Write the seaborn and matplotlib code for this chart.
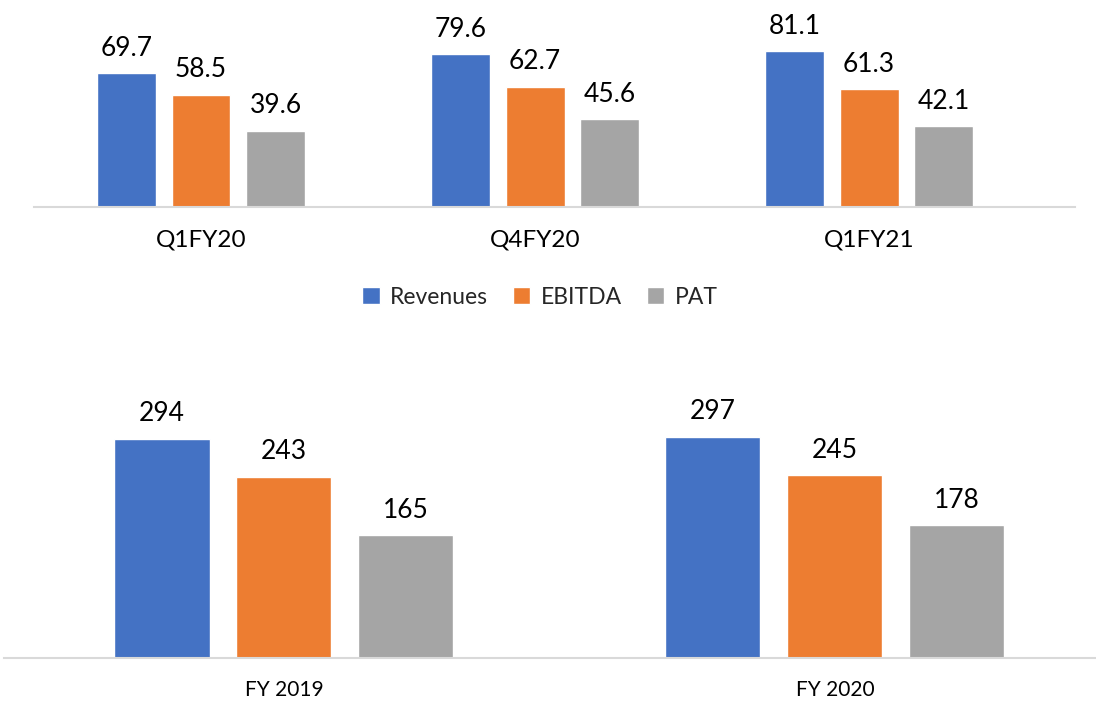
import pandas as pd
import matplotlib
matplotlib.use("Agg")
import matplotlib.pyplot as plt
import seaborn as sns

# quarterly figures
quarters = ["Q1FY20", "Q4FY20", "Q1FY21"]
q_revenues = [69.7, 79.6, 81.1]
q_ebitda = [58.5, 62.7, 61.3]
q_pat = [39.6, 45.6, 42.1]

# yearly figures
years = ["FY 2019", "FY 2020"]
y_revenues = [294, 297]
y_ebitda = [243, 245]
y_pat = [165, 178]

metrics = ["Revenues", "EBITDA", "PAT"]
colors = ["#4472C4", "#ED7D31", "#A5A5A5"]


def to_long(periods, rev, ebitda, pat):
    rows = []
    for i, p in enumerate(periods):
        for m, v in zip(metrics, [rev[i], ebitda[i], pat[i]]):
            rows.append({"period": p, "metric": m, "value": v})
    return pd.DataFrame(rows)


df_q = to_long(quarters, q_revenues, q_ebitda, q_pat)
df_y = to_long(years, y_revenues, y_ebitda, y_pat)

sns.set_style("white")
plt.rcParams["font.family"] = ["Lato", "DejaVu Sans"]

fig = plt.figure(figsize=(10.96, 7.01), dpi=100)
ax1 = fig.add_axes([0.031, 0.7047, 0.950, 0.2953])
ax2 = fig.add_axes([0.00365, 0.0613, 0.99635, 0.3966])

sns.barplot(data=df_q, x="period", y="value", hue="metric", hue_order=metrics,
            palette=colors, saturation=1, width=0.67, gap=0.21, ax=ax1, legend=True)
sns.barplot(data=df_y, x="period", y="value", hue="metric", hue_order=metrics,
            palette=colors, saturation=1, width=0.664, gap=0.22, ax=ax2, legend=False)

ax1.set_xlim(-0.5, 2.617)
ax1.set_ylim(0, 107.8)
ax2.set_xlim(-0.508, 1.474)
ax2.set_ylim(0, 373)

for ax, fmt in [(ax1, "{:.1f}"), (ax2, "{:.0f}")]:
    for cont in ax.containers:
        ax.bar_label(cont, labels=[fmt.format(b.get_height()) for b in cont],
                     padding=9, fontsize=19, color="black")
    ax.set_xlabel("")
    ax.set_ylabel("")
    ax.set_yticks([])
    for s in ["top", "left", "right"]:
        ax.spines[s].set_visible(False)
    ax.spines["bottom"].set_color("#D9D9D9")
    ax.spines["bottom"].set_linewidth(1.5)
    ax.tick_params(axis="x", length=0, pad=16, labelsize=17.5, labelcolor="black")

ax2.tick_params(axis="x", labelsize=15)

handles, labels = ax1.get_legend_handles_labels()
ax1.get_legend().remove()
fig.legend(handles, labels, loc="center", bbox_to_anchor=(540 / 1096, 1 - 297 / 701),
           ncol=3, frameon=False, fontsize=16.5, handlelength=0.75, handleheight=0.75,
           handletextpad=0.45, columnspacing=1.1)

fig.savefig("out.png", dpi=100)
